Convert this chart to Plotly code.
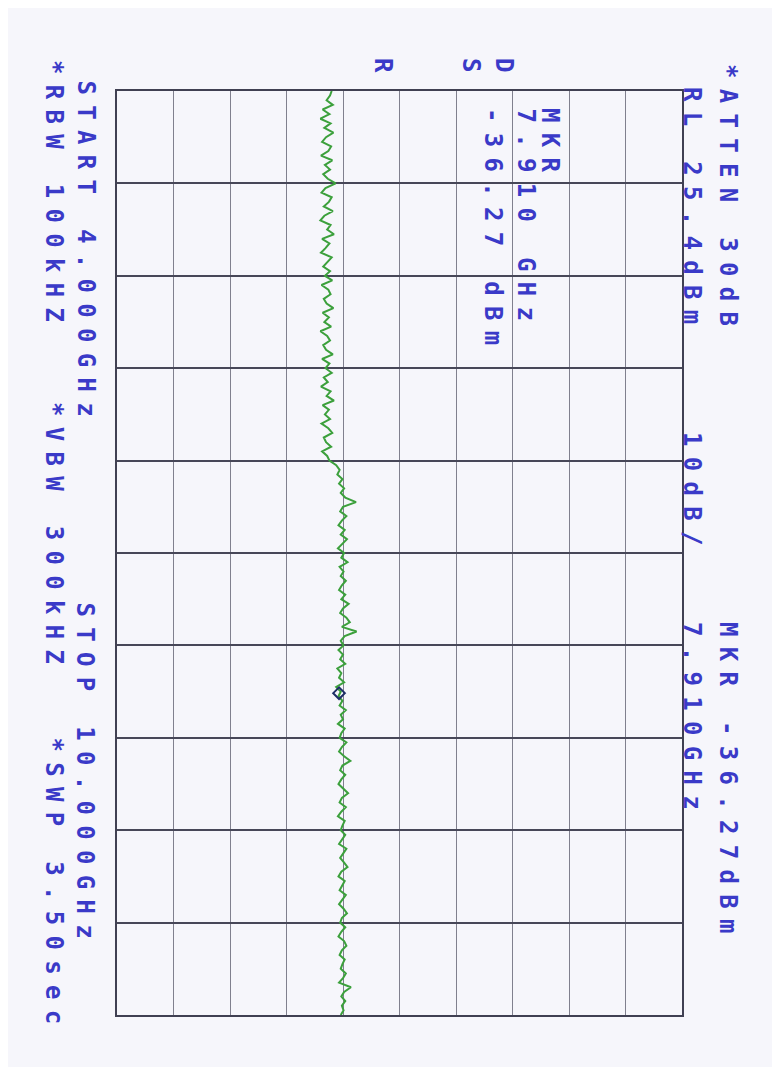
import plotly.graph_objects as go

# barrido del analizador (GHz) y nivel de referencia (dBm)
START_GHZ = 4.0
STOP_GHZ = 10.0
REF_LEVEL = 25.4
DB_PER_DIV = 10
N_DIV = 10

trace_dbm = [
    -36.6, -36.9, -37.5, -36.4, -38.2, -37.0, -38.6, -36.8, -37.9, -36.3,
    -37.6, -38.3, -36.7, -37.2, -38.5, -36.5, -37.8, -36.9, -38.1, -37.3,
    -35.9, -37.7, -38.4, -36.6, -37.1, -38.0, -36.4, -37.9, -38.6, -36.8,
    -37.4, -36.2, -38.3, -37.0, -37.7, -38.5, -36.6, -37.3, -38.1, -36.9,
    -37.8, -36.5, -38.4, -37.2, -36.8, -38.0, -37.5, -36.3, -38.2, -37.1,
    -37.9, -36.7, -38.6, -37.4, -36.9, -38.1, -37.6, -36.4, -38.3, -37.0,
    -37.7, -36.6, -38.0, -37.3, -38.5, -36.8, -37.5, -36.2, -38.2, -37.1,
    -37.8, -36.9, -38.4, -37.2, -36.5, -38.0, -37.6, -36.7, -38.3, -37.4,
    -37.0,
    -35.8, -35.2, -35.6, -34.7, -35.3, -34.4, -35.0, -34.2, -32.3, -34.6,
    -35.1, -34.0, -34.8, -35.4, -34.3, -35.0, -33.9, -34.7, -35.5, -34.4,
    -34.9, -33.8, -35.2, -34.5, -35.0, -34.1, -34.8, -35.3, -34.2, -34.9,
    -33.6, -34.6, -35.1, -34.0, -33.4, -34.8, -32.2, -34.3, -35.0, -34.5,
    -35.4, -34.6, -35.1, -34.2, -35.6, -34.9, -35.3, -34.4, -35.8, -35.0,
    -35.4, -34.7, -35.2, -34.1, -35.0, -34.6, -35.5, -34.3, -34.9, -35.2,
    -34.0, -34.8, -35.3, -34.4, -33.3, -34.7, -35.1, -34.2, -34.9, -35.4,
    -34.5, -33.7, -34.8, -35.2, -34.1, -34.9, -35.5, -34.3, -34.7, -35.0,
    -34.2, -34.8, -35.3, -34.0, -34.6, -35.1, -34.4, -33.8, -34.9, -35.4,
    -34.3, -34.8, -35.2, -34.1, -34.7, -35.3, -34.5, -33.9, -34.8, -35.1,
    -34.2, -34.9, -35.4, -34.4, -34.0, -34.8, -35.2, -34.3, -34.7, -35.0,
    -34.1, -34.6, -35.3, -33.2, -34.4, -34.9, -34.2, -34.8, -34.5, -35.0,
]

marker_ghz = [7.91]
marker_dbm = [-35.3]

step = (STOP_GHZ - START_GHZ) / (len(trace_dbm) - 1)
freq_ghz = [START_GHZ + i * step for i in range(len(trace_dbm))]

BLUE = '#3a3ac8'
OFF = 8  # margen del body de la pagina
W, H = 780 - 2 * OFF, 1075 - 2 * OFF
PLOT_X0, PLOT_X1, PLOT_Y0, PLOT_Y1 = 117, 682, 91, 1015


def paper(x, y):
    """pixel de la imagen -> coordenadas paper"""
    return (x - PLOT_X0) / (PLOT_X1 - PLOT_X0), (PLOT_Y1 - y) / (PLOT_Y1 - PLOT_Y0)


def label(text, x, y, anchor='top'):
    px, py = paper(x, y)
    return dict(
        text=f'<span style="letter-spacing:10.3px;font-weight:bold">{text}</span>',
        x=px, y=py, xref='paper', yref='paper',
        xanchor='center', yanchor=anchor,
        textangle=90, showarrow=False,
        font=dict(family='DejaVu Sans Mono', size=24, color=BLUE),
    )


fig = go.Figure()

fig.add_trace(go.Scatter(
    x=trace_dbm,
    y=freq_ghz,
    mode='lines',
    line=dict(color='#3ca03c', width=2),
    showlegend=False,
))

fig.add_trace(go.Scatter(
    x=marker_dbm,
    y=marker_ghz,
    mode='markers',
    marker=dict(symbol='diamond-open', size=9, color='#1c2d66', line=dict(width=2)),
    showlegend=False,
))

annotations = [
    label('*ATTEN 30dB', 728, 62),
    label('RL 25.4dBm', 692, 85),
    label('10dB/', 692, 430),
    label('MKR -36.27dBm', 728, 620),
    label('7.910GHz', 692, 620),
    label('MKR', 550, 106),
    label('7.910 GHz', 526, 106),
    label('-36.27 dBm', 493, 106),
    label('D', 504, 70, 'middle'),
    label('S', 471, 70, 'middle'),
    label('R', 383, 70, 'middle'),
    label('START 4.000GHz', 85, 78),
    label('STOP 10.000GHz', 85, 600),
    label('*RBW 100kHZ', 54, 58),
    label('*VBW 300kHZ', 54, 400),
    label('*SWP 3.50sec', 54, 735),
]

fig.update_layout(
    width=W,
    height=H,
    margin=dict(l=PLOT_X0 - OFF, r=W + OFF - PLOT_X1, t=PLOT_Y0 - OFF, b=H + OFF - PLOT_Y1),
    paper_bgcolor='#f6f6fb',
    plot_bgcolor='#f6f6fb',
    annotations=annotations,
    xaxis=dict(
        range=[REF_LEVEL - N_DIV * DB_PER_DIV, REF_LEVEL],
        tick0=REF_LEVEL, dtick=DB_PER_DIV,
        showgrid=True, gridcolor='#80808e', gridwidth=1.3,
        zeroline=False, showticklabels=False, ticks='',
        showline=True, linecolor='#404052', linewidth=2, mirror=True,
    ),
    yaxis=dict(
        range=[STOP_GHZ, START_GHZ],
        tick0=START_GHZ, dtick=(STOP_GHZ - START_GHZ) / N_DIV,
        showgrid=True, gridcolor='#474758', gridwidth=1.6,
        zeroline=False, showticklabels=False, ticks='',
        showline=True, linecolor='#404052', linewidth=2, mirror=True,
    ),
)

fig.write_html('out.html')
